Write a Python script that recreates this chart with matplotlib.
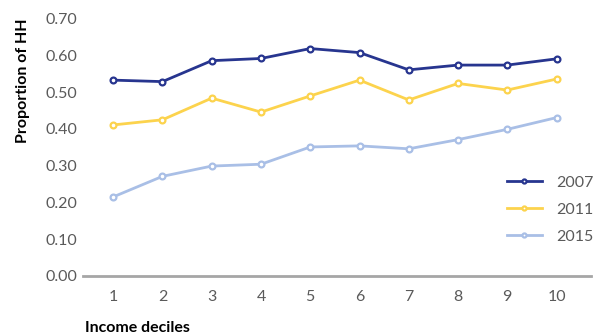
import matplotlib
matplotlib.use("Agg")
import matplotlib.pyplot as plt

plt.rcParams['font.family'] = ['Lato', 'DejaVu Sans']

deciles = [1, 2, 3, 4, 5, 6, 7, 8, 9, 10]
y2007 = [0.533, 0.529, 0.586, 0.592, 0.619, 0.608, 0.561, 0.574, 0.574, 0.591]
y2011 = [0.411, 0.425, 0.484, 0.446, 0.490, 0.533, 0.479, 0.524, 0.506, 0.536]
y2015 = [0.215, 0.271, 0.299, 0.304, 0.351, 0.354, 0.346, 0.371, 0.399, 0.431]
series_labels = ["2007", "2011", "2015"]
yticks = [0.0, 0.1, 0.2, 0.3, 0.4, 0.5, 0.6, 0.7]

colors = ["#27358f", "#fcd34d", "#a9bfe6"]

fig = plt.figure(figsize=(5.94, 3.36), dpi=100)
ax = fig.add_axes([0.14, 0.179, 0.855, 0.765])

for ys, lab, c in zip([y2007, y2011, y2015], series_labels, colors):
    ax.plot(deciles, ys, color=c, lw=2.0, marker='o', ms=4.2,
            mfc='white', mec=c, mew=1.6, label=lab)

ax.set_xlim(0.39, 10.7)
ax.set_ylim(0, 0.70)
ax.set_xticks(deciles)
ax.set_yticks(yticks)
ax.set_yticklabels([f"{v:.2f}" for v in yticks])
ax.tick_params(axis='both', length=0, labelsize=11.5, labelcolor='#5a5a5a')
ax.tick_params(axis='x', pad=10)
ax.tick_params(axis='y', pad=4)

for s in ['top', 'right', 'left']:
    ax.spines[s].set_visible(False)
ax.spines['bottom'].set_color('#a6a6a6')
ax.spines['bottom'].set_linewidth(2)

ax.set_ylabel("Proportion of HH", fontsize=11.5, fontweight='bold', color='black')
ax.yaxis.set_label_coords(-0.105, 0.76)
fig.text(0.143, 0.012, "Income deciles", fontsize=11.5, fontweight='bold', color='black')

leg = ax.legend(loc='lower right', bbox_to_anchor=(1.03, 0.075), frameon=False,
                fontsize=11.5, handlelength=2.2, labelspacing=0.8,
                handletextpad=0.9, markerscale=0.7, borderpad=0.3)
for t in leg.get_texts():
    t.set_color('#5a5a5a')

fig.savefig("out.png", dpi=100)
